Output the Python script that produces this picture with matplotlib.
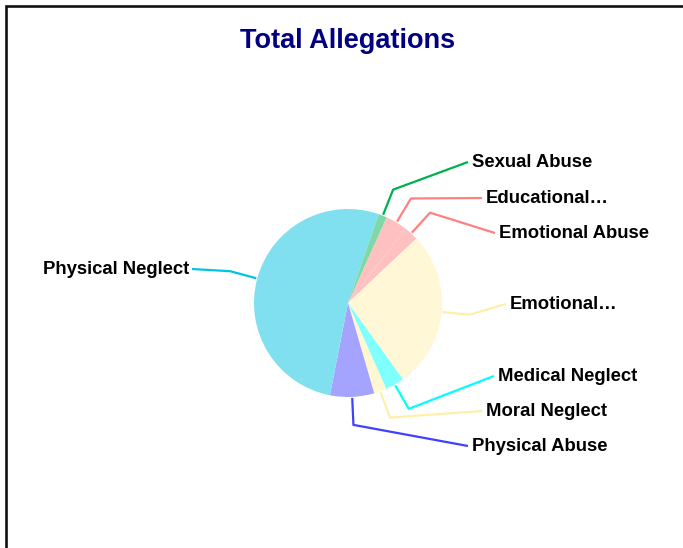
# Total Allegations pie chart
import matplotlib.pyplot as plt
import numpy as np

# DATA
categories = ["Educational\u2026", "Emotional Abuse", "Emotional\u2026", "Medical Neglect",
              "Moral Neglect", "Physical Abuse", "Physical Neglect", "Sexual Abuse"]
allegations = [135, 89, 976, 117, 78, 273, 1880, 52]

# STYLE / LAYOUT
W, H = 683, 548
line_colors = ["#FF8080", "#FF8080", "#FFEFA8", "#00FFFF",
               "#FFEFA8", "#4040FF", "#00C4E4", "#00B050"]
slice_colors = ["#FFC0C0", "#FFC0C0", "#FFF7D6", "#80FFFF",
                "#FFF6D2", "#A4A4FF", "#80E0EF", "#80D8A6"]
# label anchor (pixel coords from top-left): x, baseline y
label_x = [486, 499, 510, 498, 486, 472, 189, 472]
label_y = [203, 238, 309, 381, 416, 451, 274, 167]
center_px = (348, 303)
radius = 94

fig = plt.figure(figsize=(W / 100, H / 100), dpi=100)
ax = fig.add_axes([0, 0, 1, 1])

cx, cy = center_px[0], H - center_px[1]
wedges, _ = ax.pie(allegations, colors=slice_colors, startangle=65.7,
                   counterclock=False, radius=radius, center=(cx, cy),
                   wedgeprops=dict(linewidth=0))

ax.set_xlim(0, W)
ax.set_ylim(0, H)
ax.set_aspect("equal")
ax.axis("off")

# leader lines + labels
for w, name, lc, lx, ly in zip(wedges, categories, line_colors, label_x, label_y):
    mid = np.deg2rad((w.theta1 + w.theta2) / 2)
    x0, y0 = cx + 95 * np.cos(mid), cy + 95 * np.sin(mid)
    x1, y1 = cx + 122 * np.cos(mid), cy + 122 * np.sin(mid)
    right = lx > cx
    ex = lx - 4 if right else lx + 3
    ey = H - (ly - 5)
    ax.plot([x0, x1, ex], [y0, y1, ey], color=lc, lw=1.6, solid_capstyle="butt")
    ax.text(lx, H - ly, name, ha="left" if right else "right", va="baseline",
            fontsize=13.3, fontweight="bold", family="Liberation Sans", color="black")

ax.text(348, H - 48.5, "Total Allegations", ha="center", va="baseline",
        fontsize=19.5, fontweight="bold", family="Liberation Sans", color="#000080")

# frame border (left and top)
ax.plot([6, 6, W], [0, H - 6, H - 6], color="#111111", lw=1.9,
        solid_joinstyle="miter")

fig.savefig("out.png", dpi=100)
